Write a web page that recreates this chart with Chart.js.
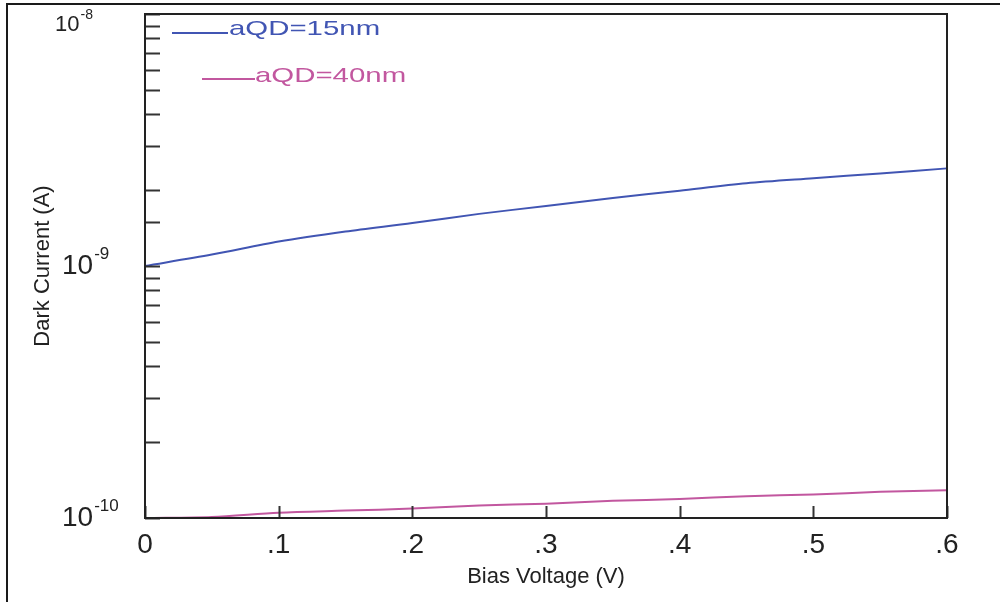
<!DOCTYPE html>
<html>
<head>
<meta charset="utf-8">
<script src="https://cdn.jsdelivr.net/npm/chart.js@4.4.0/dist/chart.umd.min.js"></script>
<style>
  html, body { margin: 0; padding: 0; background: #fff; }
  #wrap { width: 1000px; height: 602px; }
</style>
</head>
<body>
<div id="wrap"><canvas id="chart" width="1000" height="602"></canvas></div>
<script>
// bias voltage (V)
const voltage = [0, 0.05, 0.1, 0.15, 0.2, 0.25, 0.3, 0.35, 0.4, 0.45, 0.5, 0.55, 0.6];
// dark current (A)
const current15nm = [1.0e-9, 1.11e-9, 1.25e-9, 1.37e-9, 1.48e-9, 1.61e-9, 1.73e-9, 1.86e-9, 1.99e-9, 2.13e-9, 2.23e-9, 2.33e-9, 2.44e-9];
const current40nm = [1.0e-10, 1.01e-10, 1.05e-10, 1.07e-10, 1.09e-10, 1.12e-10, 1.14e-10, 1.17e-10, 1.19e-10, 1.22e-10, 1.24e-10, 1.27e-10, 1.29e-10];
const seriesLabels = ["aQD=15nm", "aQD=40nm"];
const seriesColors = ["#4155b3", "#c2579f"];
const xTicks = [0, 0.1, 0.2, 0.3, 0.4, 0.5, 0.6];
const yDecades = [-10, -9, -8];

const FONT = "'Liberation Sans', Arial, sans-serif";

// frame, inward ticks, 10^n labels and the staggered legend
const decorPlugin = {
  id: "decor",
  afterDraw(chart) {
    const ctx = chart.ctx;
    const a = chart.chartArea;
    const xs = chart.scales.x;
    const ys = chart.scales.y;
    ctx.save();

    // outer border of the figure
    ctx.strokeStyle = "#1a1a1a";
    ctx.lineWidth = 2;
    ctx.beginPath();
    ctx.moveTo(7, 602);
    ctx.lineTo(7, 4);
    ctx.lineTo(1000, 4);
    ctx.stroke();

    // ticks pointing into the plot
    ctx.strokeStyle = "#333";
    ctx.lineWidth = 2;
    ctx.beginPath();
    ys.ticks.forEach(t => {
      const py = Math.round(ys.getPixelForValue(t.value)) + 0.5;
      ctx.moveTo(a.left, py);
      ctx.lineTo(a.left + 15, py);
    });
    xs.ticks.forEach(t => {
      const px = Math.round(xs.getPixelForValue(t.value)) + 0.5;
      ctx.moveTo(px, a.bottom);
      ctx.lineTo(px, a.bottom - 12);
    });
    ctx.stroke();

    // plot box
    ctx.strokeStyle = "#222";
    ctx.strokeRect(a.left, a.top, a.right - a.left, a.bottom - a.top);

    // decade labels with superscript exponent
    ctx.fillStyle = "#222";
    ctx.textAlign = "left";
    ctx.textBaseline = "alphabetic";
    yDecades.forEach(e => {
      const py = ys.getPixelForValue(Math.pow(10, e));
      let bx = 62, by = py + 8, big = 28, small = 17, rise = 15;
      if (py - 20 < a.top - 10) {
        // top label squeezed under the border
        bx = 55; by = 31; big = 22; small = 14; rise = 12;
      }
      ctx.font = big + "px " + FONT;
      ctx.fillText("10", bx, by);
      const w = ctx.measureText("10").width;
      ctx.font = small + "px " + FONT;
      ctx.fillText(String(e), bx + w + 1, by - rise);
    });

    // legend
    const legendPos = [
      { x0: 172, x1: 228, y: 33, tx: 229, ty: 35 },
      { x0: 202, x1: 255, y: 79, tx: 255, ty: 82 }
    ];
    seriesLabels.forEach((lab, i) => {
      const p = legendPos[i];
      ctx.strokeStyle = seriesColors[i];
      ctx.lineWidth = 2;
      ctx.beginPath();
      ctx.moveTo(p.x0, p.y);
      ctx.lineTo(p.x1, p.y);
      ctx.stroke();
      ctx.save();
      ctx.translate(p.tx, p.ty);
      ctx.scale(1.4, 1);
      ctx.fillStyle = seriesColors[i];
      ctx.font = "21px " + FONT;
      ctx.fillText(lab, 0, 0);
      ctx.restore();
    });

    ctx.restore();
  }
};

new Chart(document.getElementById("chart"), {
  type: "line",
  data: {
    datasets: [
      {
        label: seriesLabels[0],
        data: voltage.map((v, i) => ({ x: v, y: current15nm[i] })),
        borderColor: seriesColors[0],
        borderWidth: 2,
        pointRadius: 0,
        tension: 0.3,
        clip: 4
      },
      {
        label: seriesLabels[1],
        data: voltage.map((v, i) => ({ x: v, y: current40nm[i] })),
        borderColor: seriesColors[1],
        borderWidth: 2,
        pointRadius: 0,
        tension: 0.3,
        clip: 4
      }
    ]
  },
  options: {
    responsive: false,
    animation: false,
    layout: { padding: { top: 14, right: 53, left: 0, bottom: 0 } },
    plugins: { legend: { display: false }, tooltip: { enabled: false } },
    scales: {
      x: {
        type: "linear",
        min: 0,
        max: 0.6,
        grid: { display: false, drawTicks: false },
        border: { display: false },
        afterBuildTicks: s => { s.ticks = xTicks.map(v => ({ value: v })); },
        afterFit: s => { s.height = 84; },
        ticks: {
          color: "#222",
          padding: 10,
          maxRotation: 0,
          font: { family: FONT, size: 28 },
          callback: v => (v === 0 ? "0" : "." + Math.round(v * 10))
        },
        title: {
          display: true,
          text: "Bias Voltage (V)",
          color: "#222",
          font: { family: FONT, size: 22 },
          padding: { top: 0, bottom: 12 }
        }
      },
      y: {
        type: "logarithmic",
        min: 1e-10,
        max: 1e-8,
        grid: { display: false, drawTicks: false },
        border: { display: false },
        afterFit: s => { s.width = 145; },
        ticks: { display: false },
        title: {
          display: true,
          text: "Dark Current (A)",
          color: "#222",
          font: { family: FONT, size: 22 },
          padding: { top: 30, bottom: 0 }
        }
      }
    }
  },
  plugins: [decorPlugin]
});
</script>
</body>
</html>
